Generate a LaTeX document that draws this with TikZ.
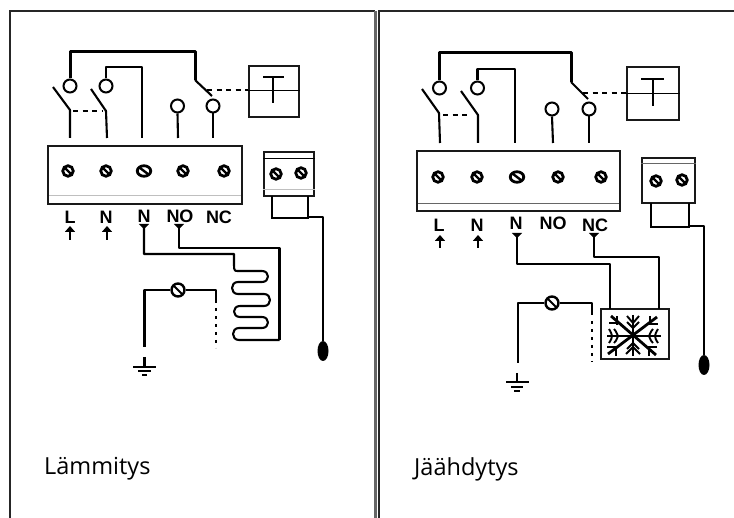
\documentclass[tikz,border=0pt]{standalone}
\usepackage{fontspec}
\setmainfont{Open Sans}
\newfontfamily\labelfont{Liberation Sans}
\usetikzlibrary{shapes.geometric,arrows.meta}
\tikzset{
  panel/.style={line width=2pt,draw=black!85},
  wire/.style={line width=2.1pt,line cap=butt,line join=round},
  heavy/.style={line width=3pt,line join=round},
  thin box/.style={line width=1.1pt,draw=black!90},
  ring/.style={circle,draw,line width=2pt,minimum size=13pt,inner sep=0pt,fill=white},
  screw/.style={circle,draw,line width=2.8pt,minimum size=10.5pt,inner sep=0pt,fill=white,
    path picture={\draw[line width=2.4pt] (path picture bounding box.north west)--(path picture bounding box.south east);}},
  wide screw/.style={screw,ellipse,minimum width=13.5pt,minimum height=10.5pt},
  fuse/.style={circle,draw,line width=2.4pt,minimum size=13pt,inner sep=0pt,fill=white,
    path picture={\draw[line width=2pt] (path picture bounding box.north west)--(path picture bounding box.south east);}},
  term/.style={font=\labelfont\bfseries\fontsize{18}{18}\selectfont,inner sep=0pt},
  caption/.style={font=\fontsize{23.5}{24}\selectfont,anchor=base west,inner sep=0pt},
  tbar/.style={line width=2.7pt},
  dash wire/.style={line width=2pt,dash pattern=on 5pt off 4.5pt},
  dot wire/.style={line width=1.8pt,dash pattern=on 3pt off 5pt},
  grayline/.style={line width=1pt,draw=black!25},
  sensor/.style={ellipse,fill=black,minimum width=11pt,minimum height=20pt,inner sep=0pt},
  uptip/.style={-{Triangle[length=6pt,width=10pt]},line width=2.4pt},
  downtip/.style={{Triangle[reversed,length=5pt,width=10pt]}-,line width=2.1pt,line join=round},
}
\begin{document}
\begin{tikzpicture}[x=1pt,y=-1pt]
\useasboundingbox (0,0) rectangle (734,518);
% frames
\draw[panel] (10,518) -- (10,11) -- (375,11);
\draw[line width=2.4pt,draw=black!60] (375.5,11) -- (375.5,518);
\draw[panel] (378.5,518) -- (378.5,11) -- (734,11);
% ===== left panel =====
\node[draw,thin box,minimum width=194pt,minimum height=58pt,inner sep=0pt] (blockA) at (145,175) {};
\draw[grayline] (49,196) -- (241,196);
\node[screw] (sa1) at (68,171) {};
\node[screw] (sa2) at (106,171) {};
\node[wide screw] (sa3) at (144,171) {};
\node[screw] (sa4) at (183,171) {};
\node[screw] (sa5) at (224,171) {};
\node[ring] (ra1) at (70,86) {};
\node[ring] (ra2) at (106,86) {};
\node[ring] (ra3) at (177.5,106) {};
\node[ring] (ra4) at (213,106) {};
\coordinate (ja1) at (70,138); \coordinate (ja2) at (107,138); \coordinate (ja3) at (142,138);
\coordinate (ja4) at (178,138); \coordinate (ja5) at (213,138);
\draw[heavy] (ra1.north) -- (70,52) -- (195,52) -- (195,80) coordinate (pa);
\draw[wire] (pa) -- (212,96);
\draw[wire] (ra2.north) -- (106,67) -- (142,67) -- (ja3);
\draw[wire] (53,87) -- (70,110) -- (ja1);
\draw[wire] (91,89) -- (106,111) -- (ja2);
\draw[dash wire] (73,111) -- (103,111);
\draw[wire] (ra3.south) -- (ja4);
\draw[wire] (ra4.south) -- (ja5);
\node[draw,thin box,minimum width=50pt,minimum height=51pt,inner sep=0pt] (ta) at (274,91.5) {};
\draw[line width=.9pt] (ta.west |- 0,90) -- (ta.east |- 0,90);
\draw[tbar] (263,77) -- (284,77);
\draw[tbar] (273,77) -- (273,103);
\draw[dash wire] (207,90) -- (ta.west |- 0,90);
% small block
\node[draw,thin box,minimum width=50pt,minimum height=44pt,inner sep=0pt] (ba) at (289,174) {};
\draw[line width=.9pt] (ba.west |- 0,158) -- (ba.east |- 0,158);
\draw[grayline] (ba.west |- 0,190) -- (ba.east |- 0,190);
\node[screw] (sb1) at (276,174) {};
\node[screw] (sb2) at (301,173) {};
\draw[line width=1.1pt] (272,196) -- (272,218) -- (308,218) -- (308,196);
\node[sensor] (sena) at (323,351) {};
\draw[wire] (308,217) -- (323,217) -- (sena.north);
% labels
\node[term] (la) at (70,217) {L};
\node[term] (lb) at (106,217) {N};
\node[term] (lc) at (144,216) {N};
\node[term] (ld) at (180,216) {NO};
\node[term] (le) at (219,217) {NC};
\draw[uptip] (70,240) -- (70,226);
\draw[uptip] (107,240) -- (107,226);
\draw[downtip] (144,224) -- (144,254) -- (234,254) -- (234,265)
  .. controls (234,271) and (235,271) .. (238,271) -- (262,271)
  .. controls (270,271) and (270,282) .. (262,282) -- (238,282)
  .. controls (230,282) and (230,294) .. (238,294) -- (264,294)
  .. controls (272,294) and (272,306) .. (264,306) -- (240,306)
  .. controls (232,306) and (232,317) .. (240,317) -- (262,317)
  .. controls (270,317) and (270,328) .. (262,328) -- (239,328)
  .. controls (231,328) and (231,340) .. (239,340) -- (279.5,340) coordinate (ca);
\draw[downtip] (179,224) -- (179,248) -- (279.5,248) -- (ca);
% earth
\node[fuse] (fa) at (178,290) {};
\coordinate (ea) at (144.5,357);
\draw[wire] (144.5,347) -- (144.5,290) -- (fa);
\draw[wire] (fa) -- (216,290) -- (216,303);
\draw[dot wire] (216,308) -- (216,348);
\draw[wire] (ea) -- (144.5,367);
\draw[wire] (133,367) -- (156,367);
\draw[wire] (138,371) -- (151,371);
\draw[wire] (142,375) -- (147,375);
\node[caption] (ca1) at (44,475) {Lämmitys};
% ===== right panel =====
\node[draw,thin box,minimum width=203pt,minimum height=60pt,inner sep=0pt] (blockB) at (518.5,181) {};
\draw[grayline,draw=black!60] (418,204) -- (619,204);
\node[screw] (sc1) at (438,177) {};
\node[screw] (sc2) at (477,177) {};
\node[wide screw] (sc3) at (517,177) {};
\node[screw] (sc4) at (558,177) {};
\node[screw] (sc5) at (601,177) {};
\node[ring] (rb1) at (439.5,88) {};
\node[ring] (rb2) at (477.5,88) {};
\node[ring] (rb3) at (552,109) {};
\node[ring] (rb4) at (589,109) {};
\coordinate (jb1) at (440,143); \coordinate (jb2) at (478,143); \coordinate (jb3) at (515,143);
\coordinate (jb4) at (553,143); \coordinate (jb5) at (589,143);
\draw[heavy] (rb1.north) -- (439.5,53) -- (571,53) -- (571,82) coordinate (pb);
\draw[wire] (pb) -- (588,99);
\draw[wire] (rb2.north) -- (477.5,69) -- (515,69) -- (jb3);
\draw[wire] (422,89) -- (439,113) -- (jb1);
\draw[wire] (461,91) -- (478,115) -- (jb2);
\draw[dash wire] (443,115) -- (470,115);
\draw[wire] (rb3.south) -- (jb4);
\draw[wire] (rb4.south) -- (jb5);
\node[draw,thin box,minimum width=52pt,minimum height=53pt,inner sep=0pt] (tb) at (653,93.5) {};
\draw[line width=.9pt] (tb.west |- 0,93) -- (tb.east |- 0,93);
\draw[tbar] (641,79) -- (664,79);
\draw[tbar] (653,79) -- (653,106);
\draw[dash wire] (583,93) -- (tb.west |- 0,93);
% small block
\node[draw,thin box,minimum width=53pt,minimum height=45pt,inner sep=0pt] (bb) at (668.5,180.5) {};
\draw[grayline,draw=black!60] (bb.west |- 0,164) -- (bb.east |- 0,164);
\node[screw] (sd1) at (656,181) {};
\node[screw] (sd2) at (682,180) {};
\draw[line width=1.1pt] (651,203) -- (651,227) -- (689,227) -- (689,203);
\node[sensor] (senb) at (704,365) {};
\draw[wire] (689,226) -- (704,226) -- (senb.north);
% labels
\node[term] (lf) at (439,225) {L};
\node[term] (lg) at (477,225) {N};
\node[term] (lh) at (516,223) {N};
\node[term] (li) at (553,223) {NO};
\node[term] (lj) at (595,225) {NC};
\draw[uptip] (440,248) -- (440,235);
\draw[uptip] (478,248) -- (478,235);
% snowflake box
\node[draw,thin box,minimum width=68pt,minimum height=50pt,inner sep=0pt,fill=white] (snow) at (635,334) {};
\draw[downtip] (517,233) -- (517,264) -- (610,264) -- (610,309);
\draw[downtip] (594,233) -- (594,257) -- (659,257) -- (659,309);
\begin{scope}[line width=1.9pt]
\draw[line width=2.4pt] (607,336) -- (661,336);
\draw[line width=2.4pt] (633,315) -- (633,356);
\draw[line width=2.8pt] (611,316) -- (656,355);
\draw[line width=2.8pt] (657,317) -- (608,354);
\draw (614,329) .. controls (617,332) and (617,335) .. (618,336) .. controls (617,338) and (617,340) .. (614,343);
\draw (609,329) .. controls (611,332) and (612,335) .. (612,336) .. controls (612,338) and (611,340) .. (609,343);
\draw (653,329) .. controls (650,332) and (650,335) .. (649,336) .. controls (650,338) and (650,340) .. (653,343);
\draw (658,329) .. controls (656,332) and (655,335) .. (655,336) .. controls (655,338) and (656,340) .. (658,343);
\draw (627,316) -- (633,323) -- (639,316);
\draw (626,354) -- (633,347) -- (640,354);
\draw (627,322) -- (633,328) -- (639,322);
\draw (627,349) -- (633,343) -- (639,349);
\draw (609,323) -- (619,323) (617,316) -- (617,325);
\draw (650,316) -- (650,325) (647,324) -- (658,324);
\draw (607,347) -- (617,347) (616,347) -- (616,356);
\draw (649,347) -- (649,356) (648,347) -- (657,347);
\end{scope}
% earth
\node[fuse] (fb) at (552,303) {};
\coordinate (eb) at (517,373);
\draw[wire] (518,363) -- (518,303) -- (fb);
\draw[wire] (fb) -- (592,303) -- (592,315);
\draw[dot wire,line width=2.2pt] (592,321) -- (592,362);
\draw[wire] (eb) -- (517,382);
\draw[wire] (506,382) -- (529,382);
\draw[wire] (511,387) -- (523,387);
\draw[wire] (514,391) -- (520,391);
\node[caption] (ca2) at (414,476) {Jäähdytys};
\end{tikzpicture}
\end{document}
